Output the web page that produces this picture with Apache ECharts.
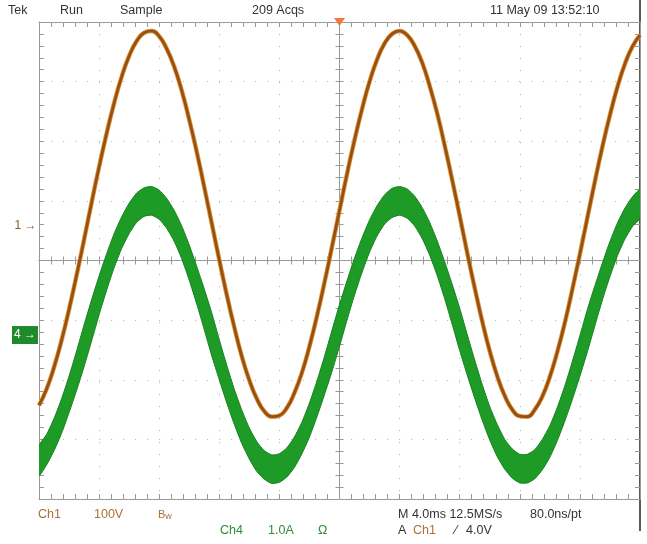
<!DOCTYPE html>
<html>
<head>
<meta charset="utf-8">
<title>Tek scope capture</title>
<script src="https://cdn.jsdelivr.net/npm/echarts@6/dist/echarts.min.js"></script>
<style>
  html, body { margin: 0; padding: 0; background: #fff; }
  #scope { width: 647px; height: 544px; }
</style>
</head>
<body>
<div id="scope"></div>
<script>
// sample times in ms, 0 = screen centre (4 ms/div, 10 div across)
const timeMs = [-20,-19.5,-19,-18.5,-18,-17.5,-17,-16.5,-16,-15.5,
  -15,-14.5,-14,-13.5,-13,-12.5,-12,-11.5,-11,-10.5,
  -10,-9.5,-9,-8.5,-8,-7.5,-7,-6.5,-6,-5.5,
  -5,-4.5,-4,-3.5,-3,-2.5,-2,-1.5,-1,-0.5,
  0,0.5,1,1.5,2,2.5,3,3.5,4,4.5,
  5,5.5,6,6.5,7,7.5,8,8.5,9,9.5,
  10,10.5,11,11.5,12,12.5,13,13.5,14,14.5,
  15,15.5,16,16.5,17,17.5,18,18.5,19,19.5,
  20];
// Ch1 (voltage) trace, screen divisions
const ch1 = [-2.43,-2.16,-1.79,-1.34,-0.82,-0.25,0.35,0.97,1.57,2.13,
  2.64,3.08,3.43,3.68,3.82,3.85,3.76,3.55,3.25,2.85,
  2.36,1.82,1.23,0.62,0.01,-0.58,-1.12,-1.61,-2.01,-2.32,
  -2.53,-2.62,-2.60,-2.47,-2.22,-1.88,-1.44,-0.93,-0.37,0.23,
  0.84,1.45,2.02,2.54,3.00,3.37,3.64,3.80,3.85,3.78,
  3.60,3.32,2.93,2.47,1.93,1.35,0.75,0.13,-0.46,-1.02,
  -1.52,-1.94,-2.27,-2.50,-2.61,-2.62,-2.50,-2.28,-1.95,-1.53,
  -1.04,-0.48,0.11,0.72,1.33,1.91,2.44,2.91,3.30,3.59,
  3.78];
// Ch4 (current) is a noisy band: top and bottom edge, screen divisions
const ch4Hi = [-3.11,-2.92,-2.65,-2.32,-1.94,-1.52,-1.08,-0.66,-0.26,0.11,
  0.45,0.73,0.96,1.13,1.22,1.24,1.18,1.04,0.84,0.58,
  0.26,-0.10,-0.48,-0.88,-1.33,-1.76,-2.16,-2.51,-2.81,-3.04,
  -3.19,-3.26,-3.24,-3.14,-2.96,-2.71,-2.39,-2.02,-1.61,-1.17,
  -0.74,-0.34,0.04,0.38,0.68,0.92,1.10,1.21,1.24,1.20,
  1.08,0.89,0.64,0.33,-0.02,-0.40,-0.80,-1.24,-1.67,-2.08,
  -2.45,-2.75,-3.00,-3.16,-3.25,-3.25,-3.17,-3.00,-2.77,-2.46,
  -2.10,-1.69,-1.26,-0.82,-0.42,-0.04,0.32,0.63,0.88,1.07,
  1.19];
const ch4Lo = [-3.61,-3.43,-3.19,-2.90,-2.55,-2.18,-1.78,-1.35,-0.91,-0.50,
  -0.12,0.20,0.45,0.64,0.74,0.76,0.69,0.54,0.32,0.03,
  -0.33,-0.73,-1.16,-1.60,-2.00,-2.39,-2.75,-3.07,-3.33,-3.54,
  -3.67,-3.74,-3.72,-3.63,-3.47,-3.24,-2.96,-2.62,-2.25,-1.86,
  -1.44,-1.00,-0.58,-0.20,0.14,0.41,0.61,0.72,0.76,0.71,
  0.58,0.37,0.09,-0.25,-0.64,-1.07,-1.51,-1.92,-2.31,-2.68,
  -3.01,-3.29,-3.50,-3.65,-3.73,-3.73,-3.66,-3.51,-3.30,-3.02,
  -2.69,-2.33,-1.94,-1.53,-1.09,-0.66,-0.27,0.08,0.36,0.57,
  0.71];
// ground reference markers on the left edge
const ch1Ref = 0.58;
const ch4Ref = -1.25;

const FONT = "'Liberation Sans', Arial, sans-serif";
const BROWN = "#a87232";
const GREEN = "#2e8c3a";
const INK = "#333";
const GRAT = "#9a9a9a";

let chart = echarts.init(document.getElementById("scope"));

function pairs(ys) {
  return timeMs.map((t, i) => [t, ys[i]]);
}

function scale(dim, pos, extra) {
  let base = {
    type: "value",
    min: dim == "x" ? -20 : -4,
    max: dim == "x" ? 20 : 4,
    interval: dim == "x" ? 4 : 1,
    position: pos,
    axisLabel: { show: false },
    splitLine: { show: false },
    axisLine: { onZero: false, lineStyle: { color: GRAT, width: 1 } },
    axisTick: { inside: true, length: 5, lineStyle: { color: GRAT } },
    minorTick: { show: true, splitNumber: 5, length: 5, lineStyle: { color: GRAT } },
  };
  return Object.assign(base, extra || {});
}

// centre cross: same axis twice, ticks pointing each way
function centre(dim, inside) {
  return scale(dim, dim == "x" ? "bottom" : "left", {
    axisLine: { onZero: true, onZeroAxisIndex: 0, lineStyle: { color: GRAT } },
    axisTick: { inside: inside, length: 4, lineStyle: { color: GRAT } },
    minorTick: { show: true, splitNumber: 5, length: 4, lineStyle: { color: GRAT } },
  });
}

const dots = { show: true, lineStyle: { color: "#b9b9b9", width: 1, type: [1.2, 10.8] } };

let option = {
  animation: false,
  backgroundColor: "#fff",
  grid: { left: 39, right: 7, top: 22, bottom: 45 },
  xAxis: [
    scale("x", "bottom", { splitLine: dots }),
    scale("x", "top"),
    centre("x", true),
    centre("x", false),
  ],
  yAxis: [
    scale("y", "left", { splitLine: dots }),
    scale("y", "right"),
    centre("y", true),
    centre("y", false),
  ],
  series: [
    // ch4 band drawn as one polygon between its upper and lower edge
    {
      type: "custom",
      coordinateSystem: "cartesian2d",
      clip: true,
      data: [[0, 0]],
      renderItem: function (params, api) {
        let top = timeMs.map((t, i) => api.coord([t, ch4Hi[i]]));
        let bottom = timeMs.map((t, i) => api.coord([t, ch4Lo[i]])).reverse();
        return {
          type: "polygon",
          shape: { points: top.concat(bottom), smooth: 0.2 },
          style: { fill: "#1e9a26", stroke: "#15821d", lineWidth: 1 },
        };
      },
    },
    // ch1: orange edge under a dark brown core
    {
      type: "line",
      data: pairs(ch1),
      smooth: true,
      symbol: "none",
      lineStyle: { color: "#dc9640", width: 4.5 },
    },
    {
      type: "line",
      data: pairs(ch1),
      smooth: true,
      symbol: "none",
      lineStyle: { color: "#99500e", width: 2.8 },
      markPoint: {
        symbol: "circle",
        symbolSize: 1,
        itemStyle: { color: "rgba(0,0,0,0)" },
        label: { show: true, position: "left", distance: 2, formatter: "1 →", color: "#8a5a2a", fontFamily: FONT, fontSize: 12 },
        data: [{ coord: [-20, ch1Ref] }],
      },
    },
    // markers on the edges: trigger position and ch4 ground
    {
      type: "line",
      data: [],
      markPoint: {
        data: [
          {
            coord: [0, 4],
            symbol: "triangle",
            symbolRotate: 180,
            symbolSize: [11, 8],
            itemStyle: { color: "#f07a3c" },
            label: { show: false },
          },
          {
            coord: [-20, ch4Ref],
            symbol: "rect",
            symbolSize: [26, 18],
            symbolOffset: [-14, 0],
            itemStyle: { color: "#1f8a2a" },
            label: { show: true, position: "inside", formatter: "4 →", color: "#fff", fontFamily: FONT, fontSize: 12 },
          },
        ],
      },
    },
  ],
  graphic: [
    { type: "line", shape: { x1: 640, y1: 0, x2: 640, y2: 531 }, style: { stroke: "#222", lineWidth: 1.5 } },
    txt("Tek", 8, 11, INK),
    txt("Run", 60, 11, INK),
    txt("Sample", 120, 11, INK),
    txt("209 Acqs", 252, 11, INK),
    txt("11 May 09 13:52:10", 490, 11, INK),
    txt("Ch1", 38, 515, BROWN),
    txt("100V", 94, 515, BROWN),
    {
      type: "text", x: 158, y: 515,
      style: {
        text: "{b|B}{w|w}", verticalAlign: "middle", fill: BROWN,
        rich: { b: { fontFamily: FONT, fontSize: 11, fill: BROWN }, w: { fontFamily: FONT, fontSize: 9, fill: BROWN, padding: [3, 0, 0, 0] } },
      },
    },
    txt("M 4.0ms 12.5MS/s", 398, 515, INK),
    txt("80.0ns/pt", 530, 515, INK),
    txt("Ch4", 220, 531, GREEN),
    txt("1.0A", 268, 531, GREEN),
    txt("Ω", 318, 531, GREEN),
    txt("A", 398, 531, INK),
    txt("Ch1", 413, 531, BROWN),
    txt("⁄", 455, 531, INK),
    txt("4.0V", 466, 531, INK),
  ],
};

function txt(s, x, y, color) {
  return {
    type: "text",
    x: x,
    y: y,
    style: { text: s, fill: color, font: "12.5px " + FONT, verticalAlign: "middle" },
  };
}

chart.setOption(option);
</script>
</body>
</html>
